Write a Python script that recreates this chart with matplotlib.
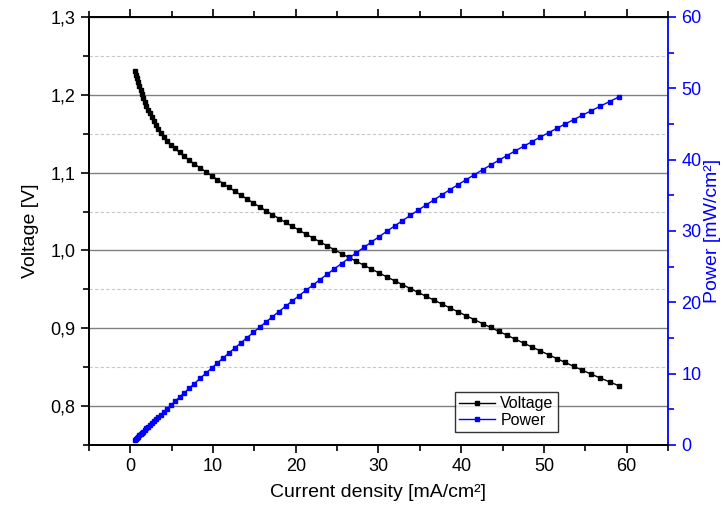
import matplotlib
matplotlib.use('Agg')
import matplotlib.pyplot as plt
from matplotlib.ticker import MultipleLocator, FuncFormatter

plt.rcParams['font.family'] = ['Liberation Sans', 'DejaVu Sans']

# polarisation curve, voltage sweep in ~5 mV steps
voltage = [1.231, 1.226, 1.221, 1.216, 1.211, 1.206, 1.201, 1.196, 1.191, 1.186,
           1.181, 1.176, 1.171, 1.166, 1.161, 1.156, 1.151, 1.146, 1.141, 1.136,
           1.131, 1.126, 1.121, 1.116, 1.111, 1.106, 1.101, 1.096, 1.091, 1.086,
           1.081, 1.076, 1.071, 1.066, 1.061, 1.056, 1.051, 1.046, 1.041, 1.036,
           1.031, 1.026, 1.021, 1.016, 1.011, 1.006, 1.001, 0.996, 0.991, 0.986,
           0.981, 0.976, 0.971, 0.966, 0.961, 0.956, 0.951, 0.946, 0.941, 0.936,
           0.931, 0.926, 0.921, 0.916, 0.911, 0.906, 0.901, 0.896, 0.891, 0.886,
           0.881, 0.876, 0.871, 0.866, 0.861, 0.856, 0.851, 0.846, 0.841, 0.836,
           0.831, 0.826]

current = [0.55, 0.65, 0.80, 0.95, 1.10, 1.25, 1.40, 1.55, 1.75, 1.95,
           2.15, 2.35, 2.60, 2.85, 3.10, 3.40, 3.70, 4.05, 4.45, 4.90,
           5.40, 5.95, 6.50, 7.10, 7.75, 8.45, 9.15, 9.83, 10.52, 11.22,
           11.93, 12.65, 13.38, 14.12, 14.87, 15.63, 16.40, 17.18, 17.97, 18.77,
           19.58, 20.40, 21.23, 22.07, 22.92, 23.78, 24.65, 25.53, 26.42, 27.32,
           28.23, 29.15, 30.08, 31.01, 31.95, 32.90, 33.85, 34.81, 35.77, 36.73,
           37.70, 38.67, 39.64, 40.62, 41.60, 42.58, 43.56, 44.55, 45.54, 46.53,
           47.53, 48.53, 49.54, 50.55, 51.56, 52.58, 53.60, 54.65, 55.72, 56.82,
           57.94, 59.08]

power = [0.68, 0.80, 0.98, 1.16, 1.33, 1.51, 1.68, 1.85, 2.08, 2.31,
         2.54, 2.76, 3.05, 3.32, 3.60, 3.93, 4.26, 4.64, 5.08, 5.57,
         6.11, 6.70, 7.29, 7.92, 8.61, 9.35, 10.07, 10.77, 11.48, 12.19,
         12.90, 13.61, 14.33, 15.05, 15.78, 16.51, 17.24, 17.97, 18.71, 19.45,
         20.19, 20.93, 21.68, 22.42, 23.17, 23.92, 24.68, 25.43, 26.18, 26.94,
         27.69, 28.45, 29.21, 29.96, 30.70, 31.45, 32.19, 32.93, 33.66, 34.38,
         35.10, 35.81, 36.51, 37.21, 37.90, 38.58, 39.25, 39.92, 40.58, 41.23,
         41.87, 42.51, 43.15, 43.78, 44.39, 45.01, 45.61, 46.23, 46.86, 47.50,
         48.15, 48.80]

blue = '#0000ff'

fig = plt.figure(figsize=(7.23, 5.13), dpi=100)
ax = fig.add_axes([0.123, 0.1326, 0.801, 0.8343])
ax2 = ax.twinx()

l1, = ax.plot(current, voltage, color='black', lw=1, marker='s', ms=3.0,
              label='Voltage')
l2, = ax2.plot(current, power, color=blue, lw=1, marker='s', ms=3.0,
               label='Power')

ax.set_xlim(-5, 65)
ax.set_ylim(0.75, 1.3)
ax2.set_ylim(0, 60)

ax.xaxis.set_major_locator(MultipleLocator(10))
ax.xaxis.set_minor_locator(MultipleLocator(5))
ax.yaxis.set_major_locator(MultipleLocator(0.1))
ax.yaxis.set_minor_locator(MultipleLocator(0.05))
ax2.yaxis.set_major_locator(MultipleLocator(10))
ax2.yaxis.set_minor_locator(MultipleLocator(5))

ax.yaxis.set_major_formatter(FuncFormatter(lambda v, p: f'{v:.1f}'.replace('.', ',')))

ax.grid(True, which='major', axis='y', color='#808080', lw=1, ls='-')
ax.grid(True, which='minor', axis='y', color='#c8c8c8', lw=0.8, ls=(0, (3, 2)))
ax.set_axisbelow(True)

ax.xaxis.set_ticks_position('both')
ax.tick_params(axis='both', which='major', direction='out', length=6, width=1.2,
               labelsize=13, colors='black')
ax.tick_params(axis='both', which='minor', direction='out', length=4, width=1.2)
ax.tick_params(axis='x', top=True, which='both')
ax2.tick_params(axis='y', which='major', direction='out', length=6, width=1.2,
                labelsize=13, colors=blue)
ax2.tick_params(axis='y', which='minor', direction='out', length=4, width=1.2,
                colors=blue)

for s in ['left', 'bottom', 'top']:
    ax.spines[s].set_linewidth(1.3)
    ax2.spines[s].set_linewidth(1.3)
ax2.spines['right'].set_color(blue)
ax2.spines['right'].set_linewidth(1.3)
ax.spines['right'].set_visible(False)

ax.set_xlabel('Current density [mA/cm²]', fontsize=14, labelpad=6)
ax.set_ylabel('Voltage [V]', fontsize=14, labelpad=8)
ax2.set_ylabel('Power [mW/cm²]', fontsize=14, color=blue, labelpad=2)

leg = ax2.legend([l1, l2], ['Voltage', 'Power'], loc='lower left',
                 bbox_to_anchor=(0.629, 0.158), bbox_transform=fig.transFigure,
                 fontsize=11.5, frameon=True, fancybox=False, handlelength=2.3,
                 borderpad=0.25, labelspacing=0.1, handletextpad=0.3,
                 borderaxespad=0)
leg.get_frame().set_edgecolor('black')
leg.get_frame().set_linewidth(1)

fig.savefig('out.png', dpi=100)
